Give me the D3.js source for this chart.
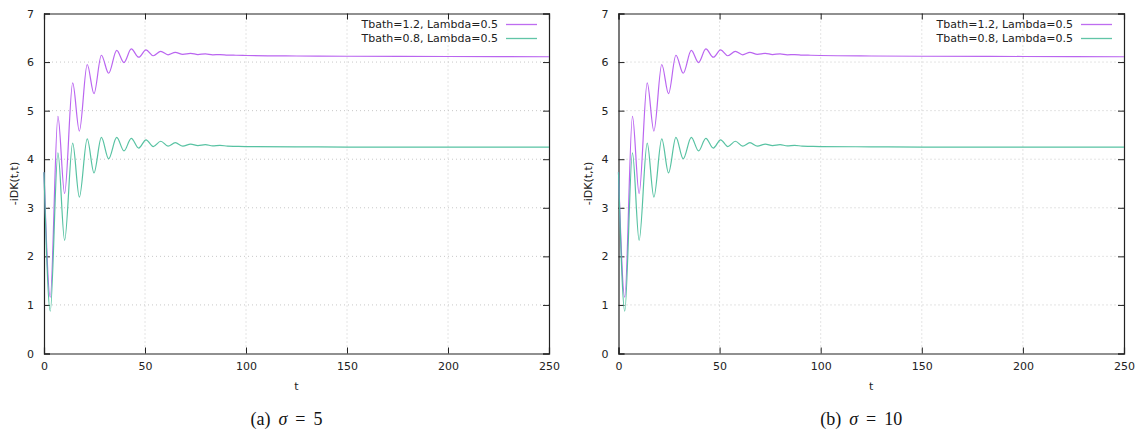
<!DOCTYPE html>
<html>
<head>
<meta charset="utf-8">
<script src="https://cdn.jsdelivr.net/npm/d3@7"></script>
<style>
  html, body { margin: 0; padding: 0; background: #fff; }
  svg { display: block; }
  .tick-label { font-family: "DejaVu Sans", sans-serif; font-size: 11px; fill: #222; }
  .legend-label { font-family: "DejaVu Sans", sans-serif; font-size: 11px; fill: #222; }
  .caption { font-family: "Liberation Serif", "DejaVu Serif", serif; font-size: 18px; fill: #111; }
</style>
</head>
<body>
<svg id="chart" width="1143" height="432"></svg>
<script>
// Axis ticks
const timeTicks = [0, 50, 100, 150, 200, 250];
const valueTicks = [0, 1, 2, 3, 4, 5, 6, 7];

// Sampled time points (extrema of the damped oscillation, then the plateau)
const timePoints = [0, 3.1, 6.9, 10.2, 14.2, 17.5, 21.4, 24.75, 28.4, 32.0, 36.0, 39.6,
  43.2, 46.9, 50.5, 54.1, 57.8, 61.4, 65.0, 68.7, 72.6, 76.2, 79.9, 83.5, 87.1, 90.8,
  95, 100, 125, 150, 200, 250];

// -iDK(t,t) for Tbath=1.2, Lambda=0.5
const hotBath = [3.73, 1.16, 4.88, 3.29, 5.57, 4.58, 5.95, 5.35, 6.14, 5.77, 6.24, 5.99,
  6.27, 6.10, 6.25, 6.13, 6.22, 6.15, 6.20, 6.16, 6.18, 6.155, 6.17, 6.15, 6.155, 6.145,
  6.14, 6.135, 6.125, 6.12, 6.115, 6.11];

// -iDK(t,t) for Tbath=0.8, Lambda=0.5
const coldBath = [3.73, 0.87, 4.13, 2.33, 4.33, 3.22, 4.42, 3.72, 4.45, 4.01, 4.45, 4.17,
  4.43, 4.23, 4.40, 4.26, 4.37, 4.27, 4.34, 4.27, 4.31, 4.28, 4.30, 4.275, 4.285, 4.27,
  4.265, 4.26, 4.255, 4.25, 4.25, 4.25];

const seriesLabels = ["Tbath=1.2, Lambda=0.5", "Tbath=0.8, Lambda=0.5"];
const seriesColors = ["#b354ee", "#45bb98"];
const panelCaptions = [["(a)", "σ", "=", "5"], ["(b)", "σ", "=", "10"]];

const svg = d3.select("#chart");

const panels = [
  { left: 44, right: 549, caption: panelCaptions[0] },
  { left: 618.5, right: 1124, caption: panelCaptions[1] }
];
const plotTop = 13.5, plotBottom = 353.5;

panels.forEach(p => {
  const g = svg.append("g");
  const x = d3.scaleLinear().domain([0, 250]).range([p.left, p.right]);
  const y = d3.scaleLinear().domain([0, 7]).range([plotBottom, plotTop]);

  // dotted grid
  g.selectAll(".gx").data(timeTicks.slice(1, -1)).join("line")
    .attr("x1", d => x(d)).attr("x2", d => x(d))
    .attr("y1", plotTop).attr("y2", plotBottom)
    .attr("stroke", "#c8c8c8").attr("stroke-width", 1).attr("stroke-dasharray", "1,3");
  g.selectAll(".gy").data(valueTicks.slice(1, -1)).join("line")
    .attr("x1", p.left).attr("x2", p.right)
    .attr("y1", d => y(d)).attr("y2", d => y(d))
    .attr("stroke", "#c8c8c8").attr("stroke-width", 1).attr("stroke-dasharray", "1,3");

  // axes with inward ticks, mirrored on the opposite sides
  const tickLen = 6;
  const intFmt = d3.format("d");
  g.append("g").attr("transform", `translate(0,${plotBottom})`)
    .call(d3.axisBottom(x).tickValues(timeTicks).tickFormat(intFmt).tickSize(-tickLen).tickPadding(9));
  g.append("g").attr("transform", `translate(0,${plotTop})`)
    .call(d3.axisTop(x).tickValues(timeTicks).tickSize(-tickLen).tickFormat(""));
  g.append("g").attr("transform", `translate(${p.left},0)`)
    .call(d3.axisLeft(y).tickValues(valueTicks).tickFormat(intFmt).tickSize(-tickLen).tickPadding(10));
  g.append("g").attr("transform", `translate(${p.right},0)`)
    .call(d3.axisRight(y).tickValues(valueTicks).tickSize(-tickLen).tickFormat(""));

  g.selectAll(".domain").attr("stroke", "#222").attr("stroke-width", 1.2);
  g.selectAll(".tick line").attr("stroke", "#222");
  g.selectAll(".tick text").attr("class", "tick-label").attr("font-family", null).attr("font-size", null);

  // curves
  const line = d3.line()
    .x((d, i) => x(timePoints[i]))
    .y(d => y(d))
    .curve(d3.curveMonotoneX);
  [hotBath, coldBath].forEach((s, k) => {
    g.append("path").datum(s)
      .attr("d", line)
      .attr("fill", "none")
      .attr("stroke", seriesColors[k])
      .attr("stroke-width", 1.2)
      .attr("stroke-opacity", 0.9);
  });

  // legend
  const legendRows = [24.5, 38.5];
  seriesLabels.forEach((lab, k) => {
    g.append("text").attr("class", "legend-label")
      .attr("x", p.right - 51).attr("y", legendRows[k])
      .attr("dy", "0.35em").attr("text-anchor", "end").text(lab);
    g.append("line")
      .attr("x1", p.right - 43).attr("x2", p.right - 12)
      .attr("y1", legendRows[k]).attr("y2", legendRows[k])
      .attr("stroke", seriesColors[k]).attr("stroke-width", 1.3)
      .attr("stroke-opacity", 0.85);
  });

  // axis titles
  const cx = (p.left + p.right) / 2;
  g.append("text").attr("class", "tick-label")
    .attr("x", cx).attr("y", 390).attr("text-anchor", "middle").text("t");
  g.append("text").attr("class", "tick-label")
    .attr("transform", `translate(${p.left - 30},${(plotTop + plotBottom) / 2}) rotate(-90)`)
    .attr("dy", "0.35em").attr("text-anchor", "middle").text("-iDK(t,t)");

  // caption
  const cap = g.append("text").attr("class", "caption")
    .attr("x", cx - 10).attr("y", 425).attr("text-anchor", "middle");
  cap.append("tspan").text(p.caption[0]);
  cap.append("tspan").attr("dx", 8).attr("font-style", "italic").text(p.caption[1]);
  cap.append("tspan").attr("dx", 8).text(p.caption[2]);
  cap.append("tspan").attr("dx", 8).text(p.caption[3]);
});
</script>
</body>
</html>
